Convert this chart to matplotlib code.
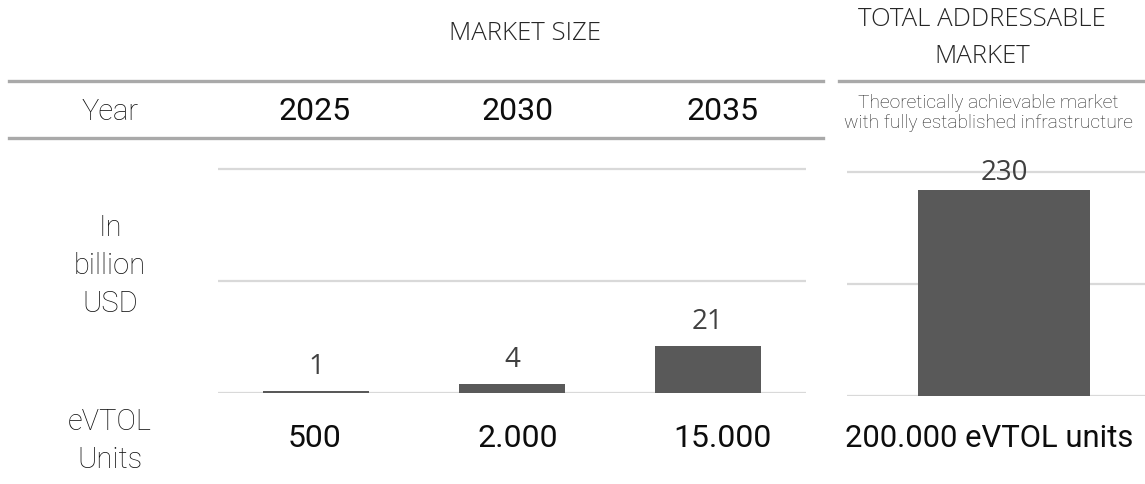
import matplotlib
matplotlib.use('Agg')
import matplotlib.pyplot as plt
from matplotlib.lines import Line2D

# market size per year, billion USD
YEARS = ['2025', '2030', '2035']
MARKET_BUSD = [1, 4, 21]
EVTOL_UNITS = ['500', '2.000', '15.000']

# total addressable market
TAM_BUSD = [230]
TAM_UNITS = '200.000 eVTOL units'
TAM_NOTE = 'Theoretically achievable market\nwith fully established infrastructure'

W, H = 1145, 485
BAR_COLOR = '#595959'
GRID_COLOR = '#d9d9d9'
RULE_COLOR = '#a9a9a9'
LABEL_COLOR = '#404040'


def fx(x):
    return x / W


def fy(y):
    return 1 - y / H


def px_axes(fig, left, right, base, top):
    # axes placed by pixel edges (y measured from the top of the image)
    return fig.add_axes([fx(left), fy(base), (right - left) / W, (base - top) / H])


def style_axes(ax, ticks, ymax):
    ax.set_ylim(0, ymax)
    ax.set_yticks(ticks)
    ax.yaxis.grid(True, color=GRID_COLOR, linewidth=1.6)
    ax.set_axisbelow(True)
    ax.tick_params(left=False, bottom=False, labelleft=False, labelbottom=False)
    for s in ax.spines.values():
        s.set_visible(False)
    ax.patch.set_alpha(0)


def hrule(fig, x0, x1, y):
    fig.add_artist(Line2D([fx(x0), fx(x1)], [fy(y), fy(y)],
                          transform=fig.transFigure, color=RULE_COLOR, linewidth=2.4))


fig = plt.figure(figsize=(W / 100, H / 100), dpi=100)

# market size bars (0..110 over 246 px)
ax = px_axes(fig, 218, 806, 394, 394 - 246)
style_axes(ax, [0, 50, 100], 110)
ax.set_xlim(-0.5, len(YEARS) - 0.5)
bars = ax.bar(range(len(YEARS)), MARKET_BUSD, width=0.54, color=BAR_COLOR)
ax.bar_label(bars, labels=[str(v) for v in MARKET_BUSD], padding=8,
             fontsize=20, family='Open Sans', color=LABEL_COLOR)

# total addressable market bar (0..260 over 233 px)
ax2 = px_axes(fig, 847, 1161, 397, 397 - 233)
style_axes(ax2, [0, 125, 250], 260)
ax2.set_xlim(-0.5, 0.5)
bars2 = ax2.bar([0], TAM_BUSD, width=0.548, color=BAR_COLOR)
ax2.bar_label(bars2, labels=[str(v) for v in TAM_BUSD], padding=3,
              fontsize=20, family='Open Sans', color=LABEL_COLOR)

# table rules
hrule(fig, 9, 823, 82)
hrule(fig, 9, 823, 139)
hrule(fig, 839, 1145, 82)

# headers
fig.text(fx(525), fy(33), 'MARKET SIZE', ha='center', va='center',
         fontsize=18.5, family='Open Sans', fontweight='light', color='#262626')
fig.text(fx(982), fy(38), 'TOTAL ADDRESSABLE\nMARKET', ha='center', va='center',
         fontsize=18.5, family='Open Sans', fontweight='light', color='#262626',
         linespacing=1.68)
fig.text(fx(988), fy(113), TAM_NOTE, ha='center', va='center',
         fontsize=13.8, family='Roboto', fontweight='light', color='#262626',
         linespacing=1.15)

# row captions
row_kw = dict(ha='center', va='center', fontsize=21, family='Roboto',
              fontweight='light', color='#111111')
fig.text(fx(110), fy(112), 'Year', **row_kw)
fig.text(fx(110), fy(266), 'In\nbillion\nUSD', linespacing=1.45, **row_kw)
fig.text(fx(110), fy(441), 'eVTOL\nUnits', linespacing=1.45, **row_kw)

# year and unit rows
col_x = [315, 518, 722]
for x, year, units in zip(col_x, YEARS, EVTOL_UNITS):
    fig.text(fx(x), fy(112), year, ha='center', va='center',
             fontsize=23, family='Roboto', color='#0d0d0d')
    fig.text(fx(x), fy(439), units, ha='center', va='center',
             fontsize=23, family='Roboto', color='#0d0d0d')
fig.text(fx(989), fy(439), TAM_UNITS, ha='center', va='center',
         fontsize=22.3, family='Roboto', color='#0d0d0d')

fig.savefig('out.png', dpi=100)
